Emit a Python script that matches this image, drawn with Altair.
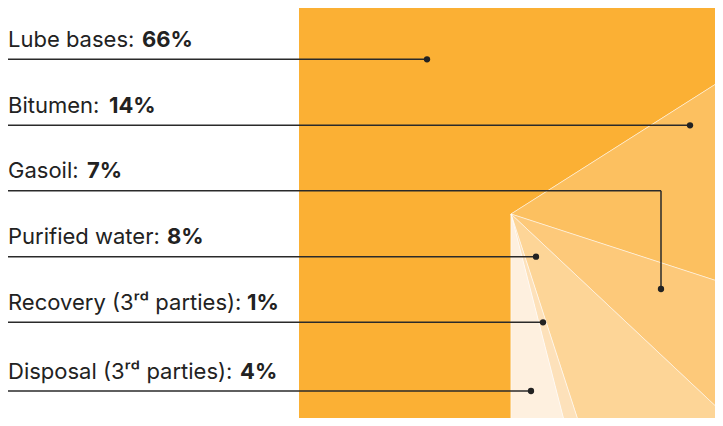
import math
import altair as alt
import pandas as pd

# ---- data ----
categories = ["Lube bases", "Bitumen", "Gasoil", "Purified water",
              "Recovery (3ʳᵈ parties)", "Disposal (3ʳᵈ parties)"]
shares = [66, 14, 7, 8, 1, 4]
value_labels = ["66%", "14%", "7%", "8%", "1%", "4%"]
colors = ["#FBB034", "#FCC060", "#FDC97A", "#FDD597", "#FDE1BA", "#FEF0DF"]

# ---- annotation layout (page pixels) ----
line_y = [59.3, 125.3, 190.7, 256.7, 322.3, 391.0]
dot_x = [427, 690, 661, 536, 543, 531]
dot_y = [59.3, 125.3, 289.0, 256.7, 322.3, 391.0]
value_dx = [134, 101, 79, 159, 239, 232]
text_x0 = 8
line_x0 = 8

W, H = 707, 410
xs = alt.Scale(domain=[8, 8 + W], nice=False, zero=False)
ys = alt.Scale(domain=[8, 8 + H], reverse=True, nice=False, zero=False)

pie_df = pd.DataFrame({"category": categories, "share": shares,
                       "order": list(range(len(categories)))})

pie = alt.Chart(pie_df).mark_arc(outerRadius=1200, stroke="white", clip=True,
                                 strokeWidth=0.6, strokeOpacity=0.8).encode(
    theta=alt.Theta("share:Q", stack=True,
                    scale=alt.Scale(range=[math.pi, 3 * math.pi])),
    color=alt.Color("category:N", scale=alt.Scale(domain=categories, range=colors),
                    legend=None),
    order=alt.Order("order:Q"),
    x=alt.value(511 - 8),
    y=alt.value(214 - 8),
)

mask = alt.Chart(pd.DataFrame({"a": [0]})).mark_rect(color="white").encode(
    x=alt.value(0), x2=alt.value(299 - 8), y=alt.value(0), y2=alt.value(H)
)

segs = []
for i, c in enumerate(categories):
    segs.append({"x": line_x0, "x2": dot_x[i], "y": line_y[i], "y2": line_y[i]})
    if dot_y[i] != line_y[i]:
        segs.append({"x": dot_x[i], "x2": dot_x[i], "y": line_y[i], "y2": dot_y[i]})
seg_df = pd.DataFrame(segs)

lines = alt.Chart(seg_df).mark_rule(color="#2a2a2a", strokeWidth=1.5).encode(
    x=alt.X("x:Q", scale=xs, axis=None), x2="x2:Q",
    y=alt.Y("y:Q", scale=ys, axis=None), y2="y2:Q",
)

dot_df = pd.DataFrame({"x": dot_x, "y": dot_y})
dots = alt.Chart(dot_df).mark_point(filled=True, color="#222222", size=40, opacity=1).encode(
    x=alt.X("x:Q", scale=xs, axis=None),
    y=alt.Y("y:Q", scale=ys, axis=None),
)

lab_df = pd.DataFrame({
    "label": [c + ": " for c in categories],
    "value": value_labels,
    "tx": [text_x0] * len(categories),
    "vx": [text_x0 + d for d in value_dx],
    "ty": [y - 12.5 for y in line_y],
})

txt = alt.Chart(lab_df).mark_text(align="left", baseline="alphabetic", font="Inter",
                                  fontSize=22, color="#222222").encode(
    x=alt.X("tx:Q", scale=xs, axis=None),
    y=alt.Y("ty:Q", scale=ys, axis=None),
    text="label:N",
)
vtxt = alt.Chart(lab_df).mark_text(align="left", baseline="alphabetic", font="Inter",
                                   fontSize=22, fontWeight="bold", color="#222222").encode(
    x=alt.X("vx:Q", scale=xs, axis=None),
    y=alt.Y("ty:Q", scale=ys, axis=None),
    text="value:N",
)

chart = alt.layer(pie, mask, lines, dots, txt, vtxt).properties(
    width=W, height=H, padding=0,
    autosize=alt.AutoSizeParams(type="none"),
).configure_view(stroke=None)

chart.save("out.html", embed_options={"renderer": "svg", "actions": False})
